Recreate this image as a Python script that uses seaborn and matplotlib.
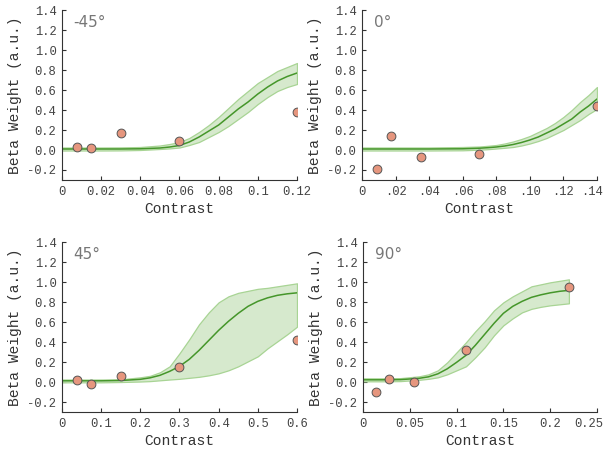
import numpy as np
import pandas as pd
import matplotlib
matplotlib.use('Agg')
import matplotlib.pyplot as plt
import matplotlib.transforms as mtransforms
import seaborn as sns

# ---- data ----
titles = ['-45°', '0°', '45°', '90°']
xmax = [0.12, 0.14, 0.6, 0.25]

# measured points (contrast, beta)
pt_x = [
    [0.0075, 0.015, 0.03, 0.06, 0.12],
    [0.00875, 0.0175, 0.035, 0.07, 0.14],
    [0.0375, 0.075, 0.15, 0.3, 0.6],
    [0.01375, 0.0275, 0.055, 0.11, 0.22],
]
pt_y = [
    [0.03, 0.02, 0.17, 0.09, 0.38],
    [-0.19, 0.14, -0.07, -0.04, 0.44],
    [0.023, -0.02, 0.063, 0.157, 0.42],
    [-0.10, 0.03, 0.003, 0.32, 0.95],
]

# fitted curve and its band
fit_x = [
    [0, 0.01, 0.02, 0.03, 0.04, 0.05, 0.055, 0.06, 0.065, 0.07, 0.075,
     0.08, 0.085, 0.09, 0.095, 0.1, 0.105, 0.11, 0.115, 0.12],
    [0, 0.02, 0.04, 0.06, 0.07, 0.075, 0.08, 0.085, 0.09, 0.095, 0.1,
     0.105, 0.11, 0.115, 0.12, 0.125, 0.13, 0.135, 0.14],
    [0, 0.05, 0.1, 0.15, 0.2, 0.225, 0.25, 0.275, 0.3, 0.325, 0.35,
     0.375, 0.4, 0.425, 0.45, 0.475, 0.5, 0.525, 0.55, 0.575, 0.6],
    [0, 0.02, 0.04, 0.06, 0.07, 0.08, 0.09, 0.1, 0.11, 0.12, 0.13,
     0.14, 0.15, 0.16, 0.17, 0.18, 0.19, 0.2, 0.21, 0.22],
]
fit_mid = [
    [0.01, 0.01, 0.01, 0.01, 0.012, 0.02, 0.03, 0.045, 0.08, 0.13, 0.19,
     0.25, 0.33, 0.41, 0.48, 0.56, 0.63, 0.69, 0.735, 0.77],
    [0.01, 0.01, 0.01, 0.012, 0.018, 0.023, 0.03, 0.04, 0.055, 0.075, 0.1,
     0.13, 0.17, 0.21, 0.26, 0.31, 0.38, 0.44, 0.51],
    [0.015, 0.015, 0.015, 0.018, 0.03, 0.045, 0.07, 0.11, 0.16, 0.23, 0.32,
     0.42, 0.52, 0.61, 0.69, 0.76, 0.81, 0.845, 0.87, 0.885, 0.895],
    [0.025, 0.025, 0.027, 0.04, 0.055, 0.085, 0.135, 0.2, 0.27, 0.37, 0.48,
     0.59, 0.69, 0.76, 0.81, 0.85, 0.875, 0.895, 0.91, 0.92],
]
fit_hi = [
    [0.025, 0.025, 0.025, 0.026, 0.03, 0.045, 0.06, 0.08, 0.12, 0.18, 0.25,
     0.33, 0.42, 0.51, 0.59, 0.67, 0.73, 0.79, 0.83, 0.87],
    [0.025, 0.025, 0.025, 0.03, 0.035, 0.042, 0.05, 0.065, 0.085, 0.11, 0.14,
     0.18, 0.22, 0.27, 0.33, 0.4, 0.48, 0.55, 0.63],
    [0.028, 0.028, 0.028, 0.03, 0.05, 0.065, 0.1, 0.16, 0.29, 0.43, 0.58,
     0.7, 0.8, 0.86, 0.895, 0.915, 0.935, 0.945, 0.96, 0.975, 0.99],
    [0.04, 0.04, 0.042, 0.06, 0.08, 0.12, 0.2, 0.3, 0.4, 0.51, 0.61,
     0.72, 0.8, 0.86, 0.91, 0.96, 0.98, 1.0, 1.015, 1.03],
]
fit_lo = [
    [-0.005, -0.005, -0.005, -0.004, 0.0, 0.01, 0.016, 0.025, 0.05, 0.08,
     0.13, 0.18, 0.24, 0.31, 0.38, 0.46, 0.53, 0.59, 0.63, 0.66],
    [-0.005, -0.005, -0.005, -0.003, 0.003, 0.008, 0.015, 0.022, 0.03, 0.045,
     0.065, 0.09, 0.12, 0.16, 0.2, 0.25, 0.3, 0.36, 0.41],
    [0.0, 0.0, 0.0, 0.003, 0.008, 0.012, 0.02, 0.028, 0.035, 0.045, 0.055,
     0.07, 0.09, 0.12, 0.16, 0.21, 0.26, 0.34, 0.41, 0.48, 0.556],
    [0.01, 0.01, 0.012, 0.025, 0.035, 0.05, 0.08, 0.12, 0.16, 0.25, 0.35,
     0.47, 0.57, 0.64, 0.7, 0.735, 0.755, 0.77, 0.78, 0.79],
]

xticks = [
    [0, 0.02, 0.04, 0.06, 0.08, 0.1, 0.12],
    [0, 0.02, 0.04, 0.06, 0.08, 0.1, 0.12, 0.14],
    [0, 0.1, 0.2, 0.3, 0.4, 0.5, 0.6],
    [0, 0.05, 0.1, 0.15, 0.2, 0.25],
]
xticklabels = [
    ['0', '0.02', '0.04', '0.06', '0.08', '0.1', '0.12'],
    ['0', '.02', '.04', '.06', '.08', '.10', '.12', '.14'],
    ['0', '0.1', '0.2', '0.3', '0.4', '0.5', '0.6'],
    ['0', '0.05', '0.1', '0.15', '0.2', '0.25'],
]
yticks = [-0.2, 0.0, 0.2, 0.4, 0.6, 0.8, 1.0, 1.2, 1.4]
yticklabels = ['-0.2', '0.0', '0.2', '0.4', '0.6', '0.8', '1.0', '1.2', '1.4']

sns.set_style('ticks')
plt.rcParams['font.family'] = ['Liberation Mono', 'DejaVu Sans']
plt.rcParams['font.size'] = 10

line_c = '#45962a'
band_c = '#d6e9cd'
band_edge = '#a8d494'
dot_c = '#e6967e'
txt_c = '#444444'

fig = plt.figure(figsize=(6.03, 4.55), dpi=100)
positions = [
    [0.1028, 0.6044, 0.3897, 0.3736],
    [0.6003, 0.6044, 0.3897, 0.3736],
    [0.1028, 0.0938, 0.3897, 0.3736],
    [0.6020, 0.0938, 0.3880, 0.3736],
]
# shift (px) for the right-most tick label so it stays inside the figure
last_shift = [0, -5, 0, -8]

for i in range(4):
    ax = fig.add_axes(positions[i])
    fit = pd.DataFrame({'x': fit_x[i], 'y': fit_mid[i]})
    pts = pd.DataFrame({'x': pt_x[i], 'y': pt_y[i]})

    ax.fill_between(fit_x[i], fit_lo[i], fit_hi[i], color=band_c,
                    edgecolor=band_edge, linewidth=0.9, zorder=1)
    sns.lineplot(data=fit, x='x', y='y', ax=ax, color=line_c,
                 linewidth=1.1, zorder=2)
    sns.scatterplot(data=pts, x='x', y='y', ax=ax, color=dot_c, s=40,
                    edgecolor='#555555', linewidth=0.7, zorder=3)

    ax.set_xlim(0, xmax[i])
    ax.set_ylim(-0.3, 1.4)
    ax.set_xticks(xticks[i])
    ax.set_xticklabels(xticklabels[i])
    ax.set_yticks(yticks)
    ax.set_yticklabels(yticklabels)
    ax.tick_params(direction='in', length=3, width=0.8, colors='#333333',
                   labelcolor=txt_c, labelsize=8.7, pad=4)
    ax.set_xlabel('Contrast', color='#333333', fontsize=10.5, labelpad=3)
    ax.set_ylabel('Beta Weight (a.u.)', color='#333333', fontsize=10.5,
                  labelpad=4)
    for s in ['left', 'bottom']:
        ax.spines[s].set_color('#333333')
        ax.spines[s].set_linewidth(0.8)
    sns.despine(ax=ax)
    ax.text(0.05, 0.97, titles[i], transform=ax.transAxes, ha='left',
            va='top', fontsize=11, color='#777777', family='DejaVu Sans')

    if last_shift[i]:
        lab = ax.get_xticklabels()[-1]
        lab.set_transform(lab.get_transform() + mtransforms.ScaledTranslation(
            last_shift[i] / 100, 0, fig.dpi_scale_trans))

fig.savefig('out.png', dpi=100)
